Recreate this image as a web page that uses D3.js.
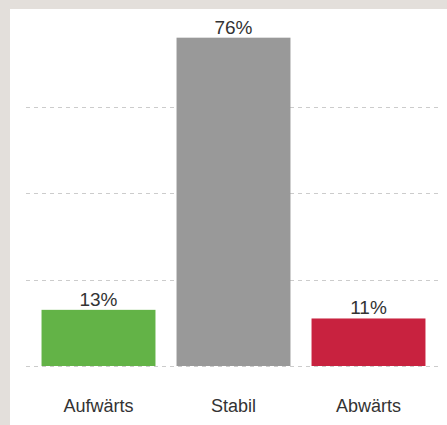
<html lang="de">
<head>
<meta charset="UTF-8">
<title>Trend</title>
<script src="https://d3js.org/d3.v7.min.js"></script>
<style>
    html, body { margin: 0; padding: 0; background: #e3dfdb; }
    #chart { position: absolute; left: 10px; top: 9px; }
    #chart svg { background: #ffffff; display: block; }
    .grid line { stroke: #cccccc; stroke-width: 1; stroke-dasharray: 4 4; }
    .val { font-family: "Liberation Sans", Arial, sans-serif; font-size: 19px; fill: #333333; text-anchor: middle; }
    .cat { font-family: "Liberation Sans", Arial, sans-serif; font-size: 18px; fill: #333333; text-anchor: middle; }
</style>
</head>
<body>
<div id="chart"></div>
<script>
    // data
    let categories = ["Aufwärts", "Stabil", "Abwärts"];
    let values = [13, 76, 11];
    let colors = ["#63b347", "#999999", "#c8223f"];
    let gridTicks = [0, 20, 40, 60];

    let width = 437, height = 416;
    // offsets relative to page -> svg coords (panel at 10,9)
    let svg = d3.select("#chart").append("svg")
        .attr("width", width)
        .attr("height", height);

    let x = d3.scaleBand()
        .domain(categories)
        .range([21, 426])
        .paddingInner(0.156)
        .paddingOuter(0.078);

    let y = d3.scaleLinear()
        .domain([0, 80])
        .range([357, 11.4]);

    // dashed grid
    svg.append("g").attr("class", "grid")
        .selectAll("line")
        .data(gridTicks)
        .join("line")
        .attr("x1", 16)
        .attr("x2", 431)
        .attr("y1", d => Math.round(y(d)) + 0.5)
        .attr("y2", d => Math.round(y(d)) + 0.5);

    // bars
    svg.append("g")
        .selectAll("rect")
        .data(values)
        .join("rect")
        .attr("x", (d, i) => x(categories[i]))
        .attr("width", x.bandwidth())
        .attr("y", d => y(d))
        .attr("height", d => y(0) - y(d))
        .attr("fill", (d, i) => colors[i]);

    // value labels
    svg.append("g")
        .selectAll("text")
        .data(values)
        .join("text")
        .attr("class", "val")
        .attr("x", (d, i) => x(categories[i]) + x.bandwidth() / 2)
        .attr("y", d => y(d) - 4)
        .text(d => d + "%");

    // category labels
    svg.append("g")
        .selectAll("text")
        .data(categories)
        .join("text")
        .attr("class", "cat")
        .attr("x", d => x(d) + x.bandwidth() / 2)
        .attr("y", 403)
        .text(d => d);
</script>
</body>
</html>
